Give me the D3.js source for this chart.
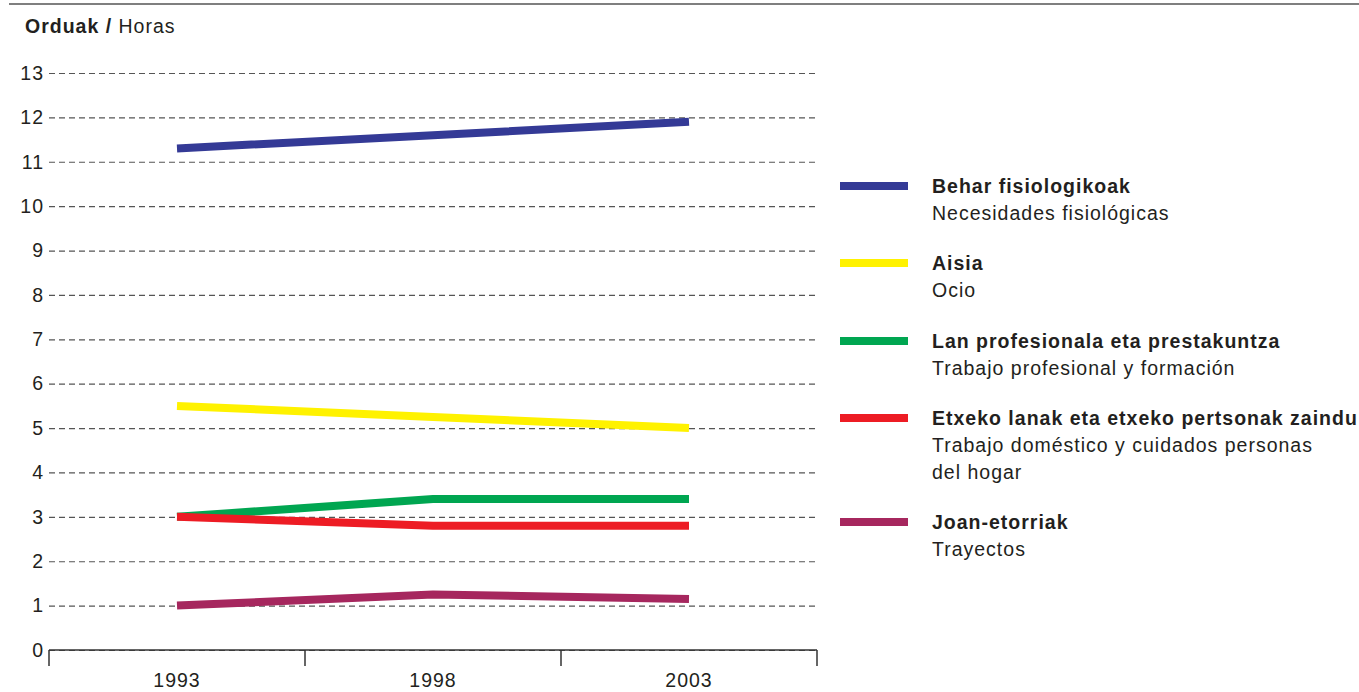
<!DOCTYPE html>
<html>
<head>
<meta charset="utf-8">
<script src="https://cdn.jsdelivr.net/npm/d3@7"></script>
<style>
  html, body { margin: 0; padding: 0; background: #fff; }
  svg { display: block; font-family: "Liberation Sans", Arial, sans-serif; }
  svg text { letter-spacing: 1px; }
</style>
</head>
<body>
<svg id="chart" width="1359" height="692"></svg>
<script>
// Years on the horizontal axis
const years = ["1993", "1998", "2003"];
// Hours per day for each activity
const physiological = [11.3, 11.6, 11.9];
const leisure = [5.5, 5.25, 5.0];
const professional = [3.0, 3.4, 3.4];
const domestic = [3.0, 2.8, 2.8];
const commuting = [1.0, 1.25, 1.15];
// Vertical axis ticks
const yTicks = [0, 1, 2, 3, 4, 5, 6, 7, 8, 9, 10, 11, 12, 13];

// Legend labels (Basque bold, Spanish regular)
const labelsEu = ["Behar fisiologikoak", "Aisia", "Lan profesionala eta prestakuntza",
  "Etxeko lanak eta etxeko pertsonak zaindu", "Joan-etorriak"];
const labelsEs = [["Necesidades fisiológicas"], ["Ocio"], ["Trabajo profesional y formación"],
  ["Trabajo doméstico y cuidados personas", "del hogar"], ["Trayectos"]];
const colors = ["#343a96", "#fff200", "#00a651", "#ed1c24", "#a6275e"];

const series = [physiological, leisure, professional, domestic, commuting].map((vals, i) => ({
  values: vals, color: colors[i], eu: labelsEu[i], es: labelsEs[i]
}));

const FS = 19.5;
const svg = d3.select("#chart");

// Top rule
svg.append("line").attr("x1", 9).attr("x2", 1359).attr("y1", 4).attr("y2", 4)
  .attr("stroke", "#555").attr("stroke-width", 1.5);

// Axis title
const title = svg.append("text").attr("x", 25).attr("y", 33)
  .attr("font-size", FS).attr("fill", "#231f20");
title.append("tspan").attr("font-weight", "bold").text("Orduak / ");
title.append("tspan").text("Horas");

const x = d3.scaleBand().domain(years).range([49, 817]);
const y = d3.scaleLinear().domain([0, 13]).range([650, 73]);

// Dashed gridlines with left tick labels
const yAxis = svg.append("g").attr("transform", "translate(49,0)")
  .call(d3.axisLeft(y).tickValues(yTicks).tickSize(-769).tickPadding(5).tickFormat(d3.format("d")));
yAxis.select(".domain").remove();
yAxis.selectAll(".tick line")
  .attr("stroke", "#555").attr("stroke-width", 1.2).attr("stroke-dasharray", "6,4");
yAxis.selectAll(".tick text")
  .attr("font-size", FS).attr("fill", "#231f20").attr("font-family", "Liberation Sans, Arial, sans-serif");

// Bottom axis with boundary ticks between year bands
svg.append("line").attr("x1", 49).attr("x2", 817).attr("y1", y(0)).attr("y2", y(0))
  .attr("stroke", "#333").attr("stroke-width", 1.5);
const bounds = years.map(d => x(d)).concat([x(years[years.length - 1]) + x.bandwidth()]);
svg.append("g").selectAll("line").data(bounds).join("line")
  .attr("x1", d => d).attr("x2", d => d).attr("y1", y(0)).attr("y2", y(0) + 16)
  .attr("stroke", "#333").attr("stroke-width", 1.5);
svg.append("g").selectAll("text").data(years).join("text")
  .attr("x", d => x(d) + x.bandwidth() / 2).attr("y", 687)
  .attr("text-anchor", "middle").attr("font-size", FS).attr("fill", "#231f20")
  .text(d => d);

// Series lines
const line = d3.line()
  .x((d, i) => x(years[i]) + x.bandwidth() / 2)
  .y(d => y(d));
svg.append("g").selectAll("path").data(series).join("path")
  .attr("d", d => line(d.values))
  .attr("fill", "none").attr("stroke", d => d.color)
  .attr("stroke-width", 8).attr("stroke-linecap", "butt").attr("stroke-linejoin", "round");

// Legend
const legendY = [186, 263, 341, 418, 522];
const lg = svg.append("g").selectAll("g").data(series).join("g")
  .attr("transform", (d, i) => `translate(0,${legendY[i]})`);
lg.append("line").attr("x1", 840).attr("x2", 908).attr("y1", 0).attr("y2", 0)
  .attr("stroke", d => d.color).attr("stroke-width", 8);
lg.append("text").attr("x", 932).attr("y", 7)
  .attr("font-size", FS).attr("font-weight", "bold").attr("fill", "#231f20")
  .text(d => d.eu);
lg.each(function(d) {
  d3.select(this).selectAll("text.es").data(d.es).join("text").attr("class", "es")
    .attr("x", 932).attr("y", (t, j) => 34 + j * 26.5)
    .attr("font-size", FS).attr("fill", "#231f20").text(t => t);
});
</script>
</body>
</html>
